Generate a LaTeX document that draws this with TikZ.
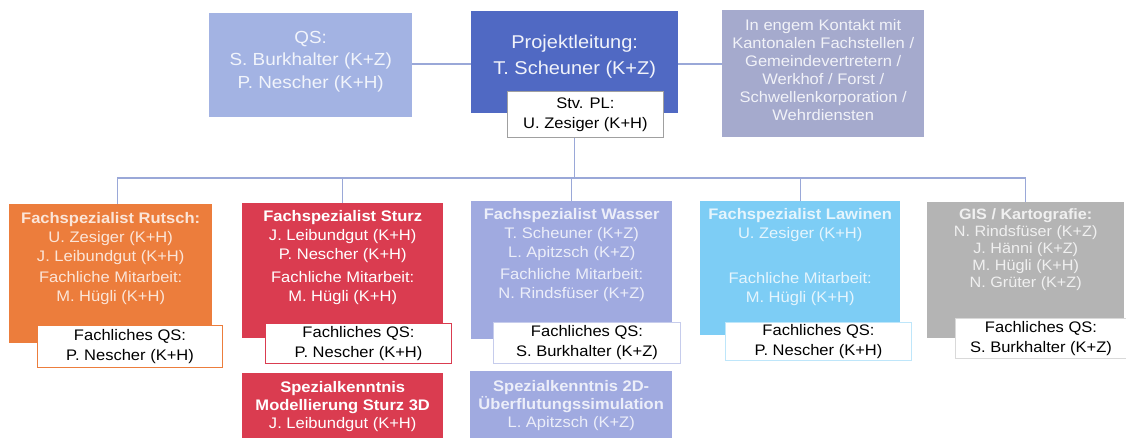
\documentclass[tikz,border=0pt]{standalone}
\usepackage{fontspec}
\setmainfont[FakeStretch=1.08]{Liberation Sans}
\definecolor{qscol}{HTML}{A3B3E3}
\definecolor{plcol}{HTML}{5069C3}
\definecolor{kontcol}{HTML}{A5AACD}
\definecolor{rutcol}{HTML}{EC7D3C}
\definecolor{stucol}{HTML}{DA3C50}
\definecolor{wascol}{HTML}{A0AAE0}
\definecolor{lawcol}{HTML}{7DCDF5}
\definecolor{giscol}{HTML}{B4B4B4}
\definecolor{linecol}{HTML}{9AA8D8}
\definecolor{stvborder}{HTML}{A0A0A0}
\begin{document}
\begin{tikzpicture}[x=1pt,y=-1pt,
  box/.style={draw=none, inner sep=0pt, anchor=north west},
  qsbox/.style={draw, line width=1pt, fill=white, inner sep=0pt, anchor=north west,
    align=center, font=\fontsize{15.3}{20}\selectfont},
  txt/.style={inner sep=0pt, align=center, font=\fontsize{15.3}{19}\selectfont},
  conn/.style={draw=linecol, line width=1.1pt}]
\useasboundingbox (0,0) rectangle (1126,437);

% top row
\node[box, fill=qscol, minimum width=203pt, minimum height=104pt] (qs) at (209,13) {};
\node[txt, text=white!85!qscol, font=\fontsize{17.5}{22.5}\selectfont] (qs-t) at ([yshift=4pt]qs.center) {QS:\\S. Burkhalter (K+Z)\\P. Nescher (K+H)};

\node[box, fill=plcol, minimum width=207pt, minimum height=102pt] (pl) at (471,11) {};
\node[txt, text=white!92!plcol, font=\fontsize{18.5}{25.5}\selectfont, anchor=north] (pl-t) at ([yshift=-24pt]pl.north) {Projektleitung:\\T. Scheuner (K+Z)};

\node[box, fill=kontcol, minimum width=202pt, minimum height=127pt] (kont) at (722,10) {};
\node[txt, text=white!85!kontcol, font=\fontsize{15.3}{18}\selectfont] (kont-t) at ([yshift=3.5pt]kont.center) {In engem Kontakt mit\\Kantonalen Fachstellen /\\Gemeindevertretern /\\Werkhof / Forst /\\Schwellenkorporation /\\Wehrdiensten};

\node[qsbox, draw=stvborder, line width=0.8pt, minimum width=156pt, minimum height=46pt] (stv) at (507,91) {Stv. PL:\\U. Zesiger (K+H)};

\draw[conn] (qs.east |- 0,64) -- (pl.west |- 0,64);
\draw[conn] (pl.east |- 0,64) -- (kont.west |- 0,64);

% row 2
\node[box, fill=rutcol, minimum width=203pt, minimum height=139pt] (rut) at (9,204) {};
\node[txt, text=white!80!rutcol, anchor=north] (rut-t) at ([yshift=-8pt]rut.north) {\textbf{Fachspezialist Rutsch:}\\U. Zesiger (K+H)\\J. Leibundgut (K+H)\\[2pt]Fachliche Mitarbeit:\\M. Hügli (K+H)};
\node[qsbox, draw=rutcol, minimum width=185pt, minimum height=42pt] (rutqs) at (37,325) {Fachliches QS:\\P. Nescher (K+H)};

\node[box, fill=stucol, minimum width=201pt, minimum height=135pt] (stu) at (242,203) {};
\node[txt, text=white, anchor=north] (stu-t) at ([yshift=-7pt]stu.north) {\textbf{Fachspezialist Sturz}\\J. Leibundgut (K+H)\\P. Nescher (K+H)\\[4pt]Fachliche Mitarbeit:\\M. Hügli (K+H)};
\node[qsbox, draw=stucol, minimum width=186pt, minimum height=40pt] (stuqs) at (265,323) {Fachliches QS:\\P. Nescher (K+H)};

\node[box, fill=wascol, minimum width=201pt, minimum height=138pt] (was) at (471,201) {};
\node[txt, text=white!80!wascol, anchor=north] (was-t) at ([yshift=-7pt]was.north) {\textbf{Fachspezialist Wasser}\\T. Scheuner (K+Z)\\L. Apitzsch (K+Z)\\[3pt]Fachliche Mitarbeit:\\N. Rindsfüser (K+Z)};
\node[qsbox, draw=wascol!60, minimum width=187pt, minimum height=41pt] (wasqs) at (493,322) {Fachliches QS:\\S. Burkhalter (K+Z)};

\node[box, fill=lawcol, minimum width=200pt, minimum height=134pt] (law) at (700,201) {};
\node[txt, text=white!80!lawcol, anchor=north] (law-t) at ([yshift=-7pt]law.north) {\textbf{Fachspezialist Lawinen}\\U. Zesiger (K+H)\\[26pt]Fachliche Mitarbeit:\\M. Hügli (K+H)};
\node[qsbox, draw=lawcol!50, minimum width=186pt, minimum height=38pt] (lawqs) at (725,322) {Fachliches QS:\\P. Nescher (K+H)};

\node[box, fill=giscol, minimum width=197pt, minimum height=136pt] (gis) at (927,202) {};
\node[txt, text=white!80!giscol, anchor=north, font=\fontsize{15}{17}\selectfont] (gis-t) at ([yshift=-6pt]gis.north) {\textbf{GIS / Kartografie:}\\N. Rindsfüser (K+Z)\\J. Hänni (K+Z)\\M. Hügli (K+H)\\N. Grüter (K+Z)};
\node[qsbox, draw=giscol!50, minimum width=171pt, minimum height=40pt] (gisqs) at (955,318) {Fachliches QS:\\S. Burkhalter (K+Z)};

% row 3
\node[box, fill=stucol, minimum width=201pt, minimum height=66pt] (spez3d) at (242,373) {};
\node[txt, text=white, font=\fontsize{15.3}{18}\selectfont] (spez3d-t) at (spez3d.center) {\textbf{Spezialkenntnis}\\\textbf{Modellierung Sturz 3D}\\J. Leibundgut (K+H)};

\node[box, fill=wascol, minimum width=202pt, minimum height=68pt] (spez2d) at (470,371) {};
\node[txt, text=white!80!wascol, font=\fontsize{15.3}{18}\selectfont] (spez2d-t) at (spez2d.center) {\textbf{Spezialkenntnis 2D-}\\\textbf{Überflutungssimulation}\\L. Apitzsch (K+Z)};

% connectors
\coordinate (busy) at (0,178);
\draw[conn] (pl.south |- stv.south) -- (pl.south |- busy);
\draw[conn] ([xshift=7pt]rut.north) -- ([xshift=7pt]rut.north |- busy) -- (gis.north |- busy) -- (gis.north);
\draw[conn] (stu.north) -- (stu.north |- busy);
\draw[conn] (was.north) -- (was.north |- busy);
\draw[conn] (law.north) -- (law.north |- busy);
\end{tikzpicture}
\end{document}
